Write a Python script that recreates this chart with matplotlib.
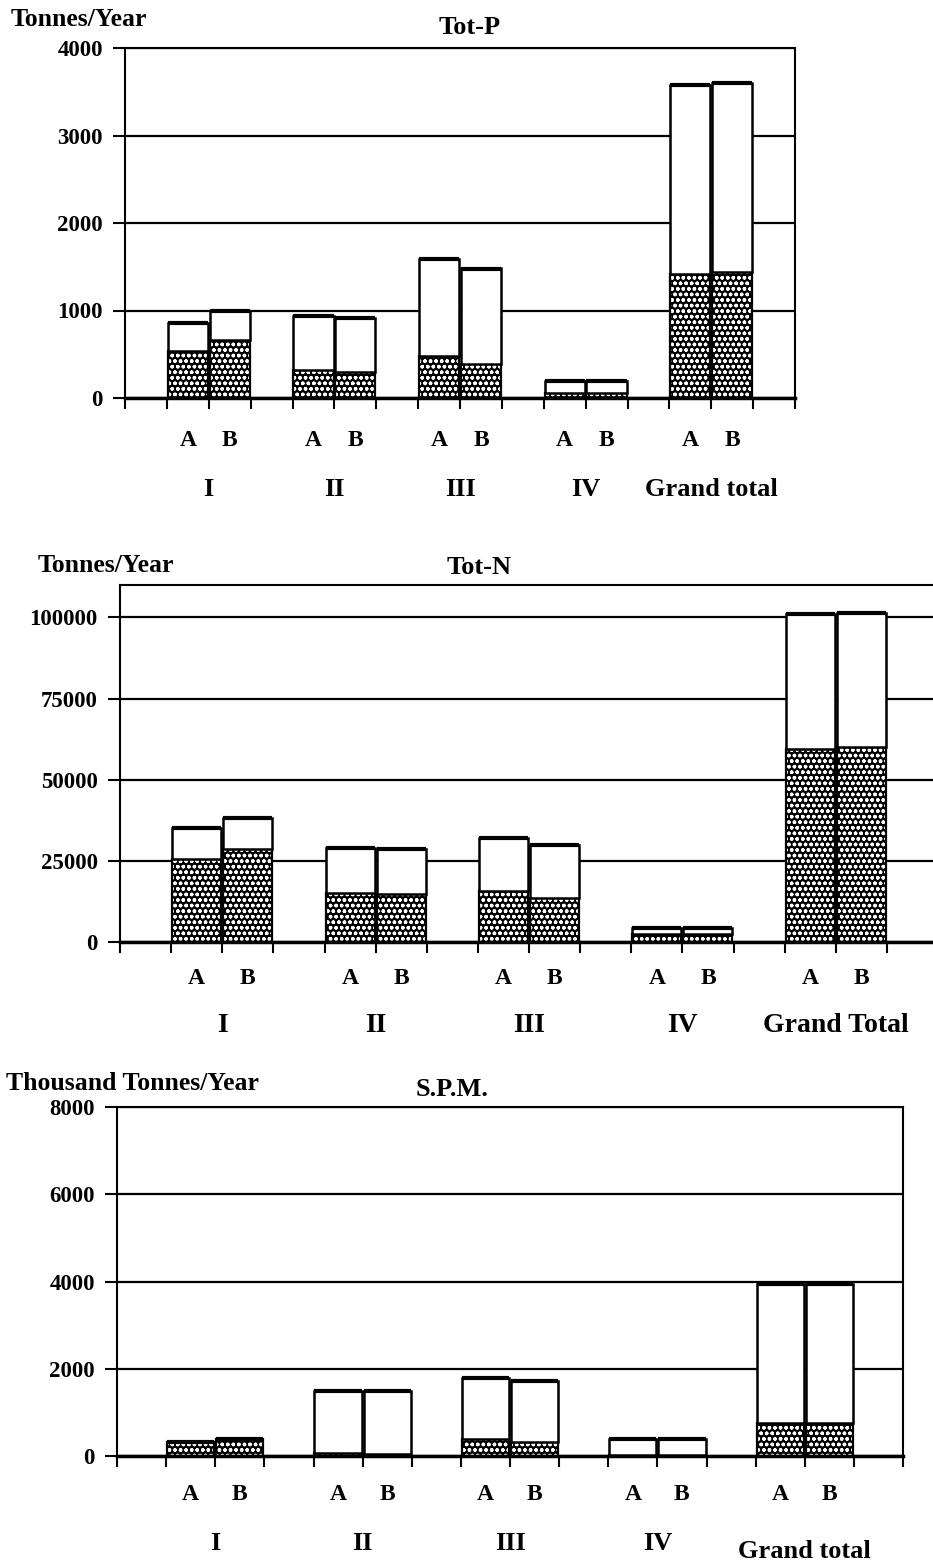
import numpy as np
import matplotlib
matplotlib.use("Agg")
import matplotlib.pyplot as plt
from matplotlib.transforms import blended_transform_factory

plt.rcParams['font.family'] = ['Liberation Serif', 'DejaVu Serif']
plt.rcParams['font.weight'] = 'bold'
plt.rcParams['hatch.linewidth'] = 1.0

# ---------------- data ----------------
groups = ['I', 'II', 'III', 'IV', 'Grand total']
groups_n = ['I', 'II', 'III', 'IV', 'Grand Total']
scenarios = ['A', 'B']

# Tot-P (tonnes/year)
totp_total_A = [860, 940, 1590, 200, 3580]
totp_total_B = [990, 920, 1480, 200, 3600]
totp_hatch_A = [540, 318, 482, 60, 1420]
totp_hatch_B = [662, 302, 386, 60, 1440]
totp_ticks = [0, 1000, 2000, 3000, 4000]

# Tot-N (tonnes/year)
totn_total_A = [35000, 29100, 32100, 4400, 101000]
totn_total_B = [38100, 28700, 30000, 4400, 101500]
totn_hatch_A = [25700, 15200, 15700, 2400, 59500]
totn_hatch_B = [28800, 14700, 13700, 2400, 60000]
totn_ticks = [0, 25000, 50000, 75000, 100000]

# S.P.M. (thousand tonnes/year)
spm_total_A = [320, 1500, 1790, 380, 3950]
spm_total_B = [400, 1500, 1720, 380, 3950]
spm_hatch_A = [320, 60, 400, 15, 760]
spm_hatch_B = [400, 50, 320, 15, 760]
spm_ticks = [0, 2000, 4000, 6000, 8000]

W, H = 933, 1566
fig = plt.figure(figsize=(W / 100, H / 100), dpi=100)


def fx(px):
    return px / W


def fy(py):
    return 1 - py / H


def panel(rect_px, ymax, ticks, tA, tB, hA, hB, title, unit, glabels,
          unit_xy, title_xy, ab_y, grp_y, grp_y_last, grp_fs):
    l, t, r, b = rect_px
    ax = fig.add_axes([fx(l), fy(b), fx(r) - fx(l), fy(t) - fy(b)])
    nslot = 16
    ax.set_xlim(0, nslot)
    ax.set_ylim(0, ymax)
    ax.set_axisbelow(True)
    for y in ticks:
        ax.axhline(y, color='black', lw=1.6, zorder=0)
    pos = np.arange(len(glabels)) * 3 + 1.5
    w = 0.96
    for xs, tot, hat in ((pos, tA, hA), (pos + 1, tB, hB)):
        tot = np.asarray(tot, float)
        hat = np.asarray(hat, float)
        ax.bar(xs, hat, width=w, facecolor='black', edgecolor='white',
               hatch='ooo', linewidth=0, zorder=2)
        ax.bar(xs, hat, width=w, fill=False, edgecolor='black',
               linewidth=1.6, zorder=3)
        ax.bar(xs, tot - hat, bottom=hat, width=w, facecolor='white',
               edgecolor='black', linewidth=1.8, zorder=3)
        ax.hlines(tot, xs - w / 2, xs + w / 2, color='black', lw=3, zorder=4)
    ax.set_yticks(ticks)
    ax.set_yticklabels([str(v) for v in ticks], fontsize=16.5,
                       fontweight='bold')
    ax.set_xticks(np.arange(nslot + 1))
    ax.set_xticklabels([])
    ax.tick_params(axis='y', direction='out', length=9, width=1.5, pad=7)
    ax.tick_params(axis='x', direction='out', length=8, width=1.5)
    for s in ('left', 'top', 'right'):
        ax.spines[s].set_linewidth(1.5)
    ax.spines['bottom'].set_linewidth(2.5)
    trans = blended_transform_factory(ax.transData, fig.transFigure)
    for i, g in enumerate(glabels):
        ax.text(pos[i], fy(ab_y), scenarios[0], transform=trans,
                ha='center', va='center', fontsize=17, fontweight='bold')
        ax.text(pos[i] + 1, fy(ab_y), scenarios[1], transform=trans,
                ha='center', va='center', fontsize=17, fontweight='bold')
        gy = grp_y_last if i == len(glabels) - 1 else grp_y
        ax.text(pos[i] + 0.5, fy(gy), g, transform=trans,
                ha='center', va='center', fontsize=grp_fs, fontweight='bold')
    fig.text(fx(unit_xy[0]), fy(unit_xy[1]), unit, ha='left', va='center',
             fontsize=18.5, fontweight='bold')
    fig.text(fx(title_xy[0]), fy(title_xy[1]), title, ha='center',
             va='center', fontsize=19, fontweight='bold')
    return ax


panel((125, 48, 795, 398), 4000, totp_ticks, totp_total_A, totp_total_B,
      totp_hatch_A, totp_hatch_B, 'Tot-P', 'Tonnes/Year', groups,
      (11, 19), (470, 27), 440, 489, 489, 19)

panel((120, 585, 938, 942), 110000, totn_ticks, totn_total_A, totn_total_B,
      totn_hatch_A, totn_hatch_B, 'Tot-N', 'Tonnes/Year', groups_n,
      (38, 566), (479, 568), 978, 1025, 1025, 20)

panel((117, 1107, 903, 1456), 8000, spm_ticks, spm_total_A, spm_total_B,
      spm_hatch_A, spm_hatch_B, 'S.P.M.', 'Thousand Tonnes/Year', groups,
      (6, 1083), (452, 1090), 1495, 1543, 1552, 19)

fig.savefig('out.png', dpi=100)
